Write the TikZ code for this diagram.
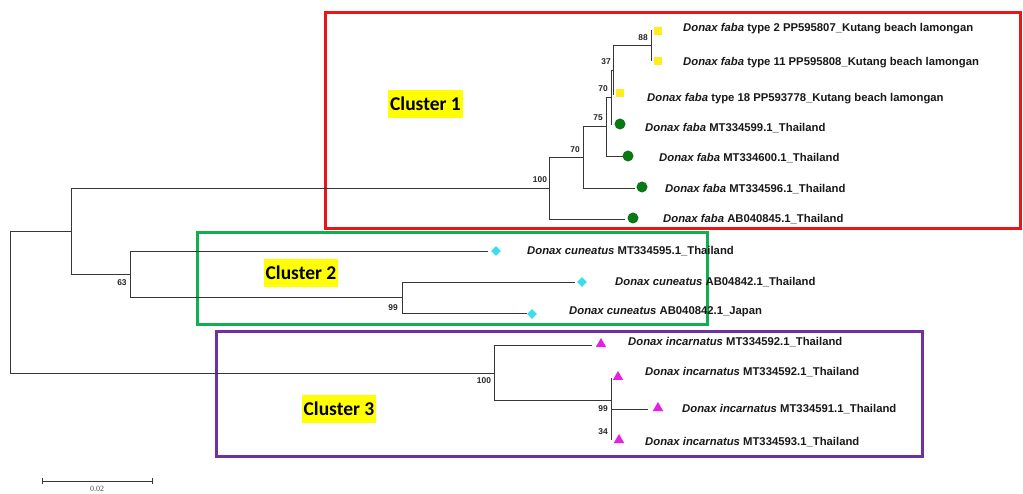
\documentclass[tikz,border=0pt]{standalone}
\usepackage{fontspec}
\setmainfont{Liberation Sans}
\newfontfamily\calibfont{Carlito}
\newfontfamily\seriffont{Liberation Serif}
\usetikzlibrary{shapes.geometric}
\definecolor{treec}{RGB}{55,55,55}
\definecolor{redc}{RGB}{232,22,22}
\definecolor{grnbox}{RGB}{16,176,80}
\definecolor{purc}{RGB}{112,48,160}
\definecolor{yelc}{RGB}{255,238,30}
\definecolor{grnc}{RGB}{10,120,20}
\definecolor{cyac}{RGB}{60,220,240}
\definecolor{magc}{RGB}{230,30,230}
\definecolor{hly}{RGB}{255,255,0}
\begin{document}
\begin{tikzpicture}[x=1pt,y=-1pt,
  br/.style={draw=treec, line width=0.9pt},
  lab/.style={anchor=west, inner sep=0pt, font=\fontsize{11.3}{13}\selectfont\bfseries, text=black!90},
  bs/.style={inner sep=0pt, font=\fontsize{8.4}{10}\selectfont\bfseries, text=black!85},
  sqm/.style={rectangle, fill=yelc, minimum size=8.5pt, inner sep=0pt},
  cim/.style={circle, fill=grnc, minimum size=11pt, inner sep=0pt},
  dim/.style={diamond, fill=cyac, minimum width=10pt, minimum height=10pt, inner sep=0pt},
  trim/.style={isosceles triangle, isosceles triangle apex angle=60, shape border rotate=90, fill=magc, minimum height=9pt, inner sep=0pt},
  clus/.style={fill=hly, font=\calibfont\fontsize{19.5}{22}\selectfont\bfseries, inner xsep=2pt, minimum height=28pt},
  boxr/.style={line width=3pt}
]
\useasboundingbox (0,0) rectangle (1023,494);
\fill[white] (0,0) rectangle (1023,494);

% cluster boxes
\draw[boxr, redc] (325,13) rectangle (1020,229);
\draw[boxr, grnbox] (197,233) rectangle (707,325);
\draw[boxr, purc] (216,332) rectangle (922,456);

\node[clus] (cl1) at (425.5,104) {Cluster 1};
\node[clus] (cl2) at (301,273) {Cluster 2};
\node[clus] (cl3) at (339,409) {Cluster 3};

% internal nodes
\coordinate (R) at (10,303);
\coordinate (A) at (71,231);
\coordinate (B) at (130,274.5);
\coordinate (D) at (402,297.5);
\coordinate (N1) at (549,188.5);
\coordinate (N2) at (583,157.5);
\coordinate (N3) at (606,126.5);
\coordinate (N4) at (611,97.5);
\coordinate (N5) at (613,70);
\coordinate (N6) at (651,45.5);
\coordinate (N7) at (494,373);
\coordinate (N8) at (611,400.5);
\coordinate (N9) at (611,409);

% leaf ends
\coordinate (t2e) at (651,30);
\coordinate (t11e) at (651,61);
\coordinate (t18e) at (613,95);
\coordinate (f599e) at (611,125);
\coordinate (f600e) at (623,156);
\coordinate (f596e) at (635,188);
\coordinate (f845e) at (625,219);
\coordinate (c595e) at (488,251);
\coordinate (c842e) at (575,282);
\coordinate (cjpe) at (527,313);
\coordinate (i592ae) at (592,345);
\coordinate (i592be) at (611,378);
\coordinate (i591e) at (648,409);
\coordinate (i593e) at (611,440);

% branches
\draw[br] (R) |- (A);
\draw[br] (R) |- (N7);
\draw[br] (A) |- (N1);
\draw[br] (A) |- (B);
\draw[br] (B) |- (c595e);
\draw[br] (B) |- (D);
\draw[br] (D) |- (c842e);
\draw[br] (D) |- (cjpe);
\draw[br] (N1) |- (N2);
\draw[br] (N1) |- (f845e);
\draw[br] (N2) |- (N3);
\draw[br] (N2) |- (f596e);
\draw[br] (N3) |- (N4);
\draw[br] (N3) |- (f600e);
\draw[br] (N4) |- (N5);
\draw[br] (N4) |- (f599e);
\draw[br] (N5) |- (N6);
\draw[br] (N5) |- (t18e);
\draw[br] (N6) |- (t2e);
\draw[br] (N6) |- (t11e);
\draw[br] (N7) |- (i592ae);
\draw[br] (N7) |- (N8);
\draw[br] (N8) -- (i592be);
\draw[br] (N8) -- (i593e);
\draw[br] (N9) -- (i591e);

% bootstrap values
\node[bs] (b88) at (643,38) {88};
\node[bs] (b37) at (606,62) {37};
\node[bs] (b70a) at (603,89) {70};
\node[bs] (b75) at (598,118) {75};
\node[bs] (b70b) at (575,150) {70};
\node[bs] (b100a) at (540,180) {100};
\node[bs] (b63) at (122,283) {63};
\node[bs] (b99a) at (393,308) {99};
\node[bs] (b100b) at (484,381) {100};
\node[bs] (b99b) at (603,409) {99};
\node[bs] (b34) at (603,432) {34};

% markers
\node[sqm] (m2) at (658,31) {};
\node[sqm] (m11) at (658,61) {};
\node[sqm] (m18) at (620,93) {};
\node[cim] (m599) at (620,124) {};
\node[cim] (m600) at (628,156) {};
\node[cim] (m596) at (642,187) {};
\node[cim] (m845) at (633,218) {};
\node[dim] (mc595) at (496,251) {};
\node[dim] (mc842) at (582,282) {};
\node[dim] (mcjp) at (532,314) {};
\node[trim] (mi592a) at (601,344) {};
\node[trim] (mi592b) at (618,377) {};
\node[trim] (mi591) at (658,408) {};
\node[trim] (mi593) at (619,440) {};

% labels
\node[lab] (l2) at (683,29) {\textit{Donax faba} type 2 PP595807\_Kutang beach lamongan};
\node[lab] (l11) at (683,63) {\textit{Donax faba} type 11 PP595808\_Kutang beach lamongan};
\node[lab] (l18) at (647,99) {\textit{Donax faba} type 18 PP593778\_Kutang beach lamongan};
\node[lab] (l599) at (645,128) {\textit{Donax faba} MT334599.1\_Thailand};
\node[lab] (l600) at (659,158) {\textit{Donax faba} MT334600.1\_Thailand};
\node[lab] (l596) at (665,189) {\textit{Donax faba} MT334596.1\_Thailand};
\node[lab] (l845) at (663,219) {\textit{Donax faba} AB040845.1\_Thailand};
\node[lab] (lc595) at (527,251) {\textit{Donax cuneatus} MT334595.1\_Thailand};
\node[lab] (lc842) at (615,282) {\textit{Donax cuneatus} AB04842.1\_Thailand};
\node[lab] (lcjp) at (569,312) {\textit{Donax cuneatus} AB040842.1\_Japan};
\node[lab] (li592a) at (628,342) {\textit{Donax incarnatus} MT334592.1\_Thailand};
\node[lab] (li592b) at (645,372) {\textit{Donax incarnatus} MT334592.1\_Thailand};
\node[lab] (li591) at (682,409) {\textit{Donax incarnatus} MT334591.1\_Thailand};
\node[lab] (li593) at (645,442) {\textit{Donax incarnatus} MT334593.1\_Thailand};

% scale bar
\coordinate (s1) at (42,481);
\coordinate (s2) at (152,481);
\draw[br, line width=0.8pt] (s1) -- (s2);
\draw[br, line width=0.8pt] ([yshift=-3pt]s1) -- ([yshift=3pt]s1);
\draw[br, line width=0.8pt] ([yshift=-3pt]s2) -- ([yshift=3pt]s2);
\node[inner sep=0pt, font=\seriffont\fontsize{8}{9}\selectfont, text=black!70] (sl) at (97,489) {0.02};
\end{tikzpicture}
\end{document}
